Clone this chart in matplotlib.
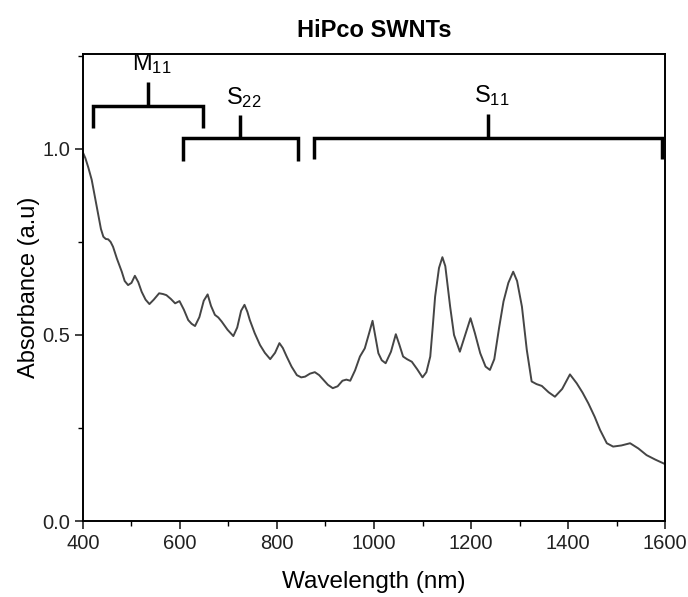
import matplotlib
matplotlib.use("Agg")
import matplotlib.pyplot as plt
from matplotlib.ticker import MultipleLocator

plt.rcParams['font.family'] = ['Liberation Sans', 'DejaVu Sans']
plt.rcParams['mathtext.default'] = 'regular'

# absorbance spectrum
wavelength = [400, 405, 411, 418, 425, 432, 437, 442, 447, 452, 457, 462, 470, 480,
              486, 493, 500, 507, 514, 521, 529, 537, 546, 557, 565, 572, 581, 590,
              599, 608, 617, 624, 631, 640, 649, 657, 664, 672, 679, 686, 698, 710,
              718, 726, 733, 739, 744, 754, 765, 775, 786, 796, 805, 812, 820, 830,
              841, 850, 858, 868, 878, 887, 896, 905, 915, 925, 935, 943, 951, 961,
              971, 981, 990, 997, 1003, 1009, 1016, 1024, 1035, 1045, 1052, 1060,
              1068, 1078, 1089, 1100, 1108, 1116, 1121, 1126, 1134, 1141, 1147,
              1152, 1157, 1165, 1177, 1188, 1199, 1208, 1219, 1230, 1239, 1248,
              1258, 1267, 1277, 1287, 1295, 1305, 1315, 1325, 1335, 1346, 1360,
              1373, 1388, 1404, 1418, 1430, 1442, 1455, 1466, 1480, 1493, 1510,
              1528, 1545, 1562, 1580, 1600]
absorbance = [0.99, 0.975, 0.95, 0.917, 0.868, 0.818, 0.785, 0.764, 0.758, 0.757,
              0.750, 0.737, 0.705, 0.670, 0.645, 0.634, 0.640, 0.659, 0.642, 0.616,
              0.595, 0.583, 0.595, 0.612, 0.610, 0.607, 0.597, 0.585, 0.591, 0.568,
              0.540, 0.530, 0.524, 0.548, 0.592, 0.609, 0.578, 0.554, 0.547, 0.536,
              0.514, 0.497, 0.520, 0.565, 0.581, 0.562, 0.540, 0.505, 0.473, 0.452,
              0.435, 0.452, 0.478, 0.465, 0.442, 0.415, 0.392, 0.386, 0.388, 0.396,
              0.400, 0.392, 0.379, 0.366, 0.357, 0.362, 0.377, 0.380, 0.377, 0.405,
              0.442, 0.464, 0.505, 0.538, 0.495, 0.451, 0.432, 0.424, 0.455, 0.502,
              0.475, 0.442, 0.435, 0.428, 0.408, 0.386, 0.400, 0.442, 0.520, 0.603,
              0.680, 0.709, 0.685, 0.630, 0.576, 0.500, 0.455, 0.500, 0.545, 0.505,
              0.451, 0.415, 0.406, 0.435, 0.520, 0.590, 0.640, 0.670, 0.645, 0.576,
              0.460, 0.375, 0.368, 0.363, 0.346, 0.334, 0.355, 0.394, 0.370, 0.345,
              0.316, 0.280, 0.245, 0.209, 0.200, 0.203, 0.209, 0.195, 0.177, 0.165,
              0.153]

# transition brackets: label, start, end, bar level, drop, tick top, label y
band_labels = ['M$_{11}$', 'S$_{22}$', 'S$_{11}$']
band_start = [420, 606, 876]
band_end = [647, 843, 1594]
band_level = [1.116, 1.030, 1.030]
band_drop = [0.06, 0.062, 0.057]
band_tick = [1.18, 1.09, 1.094]
band_text_y = [1.195, 1.105, 1.110]

fig = plt.figure(figsize=(6.88, 5.97), dpi=100)
ax = fig.add_axes([0.1206, 0.1273, 0.8460, 0.7822])

ax.plot(wavelength, absorbance, color='#454545', lw=1.4)

for lab, x0, x1, yl, dr, yt, ty in zip(band_labels, band_start, band_end,
                                       band_level, band_drop, band_tick, band_text_y):
    xm = (x0 + x1) / 2
    ax.plot([x0, x0, x1, x1], [yl - dr, yl, yl, yl - dr], color='black', lw=2.5,
            solid_joinstyle='miter', solid_capstyle='butt')
    ax.plot([xm, xm], [yl, yt], color='black', lw=2.5, solid_capstyle='butt')
    ax.text(xm + 8, ty, lab, ha='center', va='bottom', fontsize=17)

ax.set_xlim(400, 1600)
ax.set_ylim(0, 1.255)
ax.xaxis.set_major_locator(MultipleLocator(200))
ax.xaxis.set_minor_locator(MultipleLocator(100))
ax.yaxis.set_major_locator(MultipleLocator(0.5))
ax.yaxis.set_minor_locator(MultipleLocator(0.25))
ax.yaxis.set_major_formatter(plt.FormatStrFormatter('%.1f'))
ax.tick_params(which='major', direction='out', length=6, width=1.2, labelsize=14.5,
               colors='#222222', pad=3)
ax.tick_params(which='minor', direction='out', length=3.5, width=1.0)
for s in ax.spines.values():
    s.set_linewidth(1.4)

ax.set_xlabel('Wavelength (nm)', fontsize=17.5, labelpad=13)
ax.set_ylabel('Absorbance (a.u)', fontsize=17, labelpad=2)
ax.set_title('HiPco SWNTs', fontsize=17, fontweight='bold', pad=12)

fig.savefig('out.png', dpi=100)
